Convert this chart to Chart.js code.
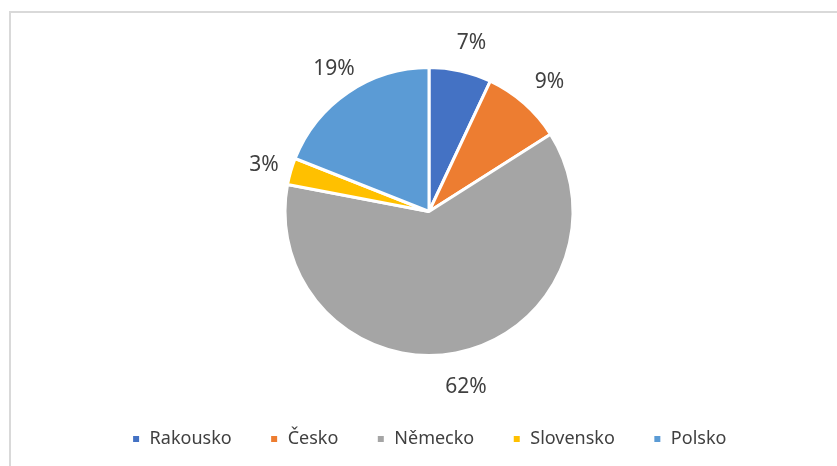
<!DOCTYPE html>
<html>
<head>
<meta charset="utf-8">
<script src="https://cdn.jsdelivr.net/npm/chart.js@4"></script>
<style>
  html, body { margin: 0; padding: 0; background: #fff; }
  #wrap { position: relative; width: 837px; height: 466px; }
  #frame {
    position: absolute; left: 9px; top: 11px; right: -5px; bottom: -5px;
    border-top: 2px solid #d9d9d9; border-left: 2px solid #d9d9d9;
    pointer-events: none;
  }
</style>
</head>
<body>
<div id="wrap">
  <canvas id="chart" width="837" height="466"></canvas>
  <div id="frame"></div>
</div>
<script>
// Country shares (percent)
const countries = ['Rakousko', 'Česko', 'Německo', 'Slovensko', 'Polsko'];
const shares = [7, 9, 62, 3, 19];
const colors = ['#4472C4', '#ED7D31', '#A5A5A5', '#FFC000', '#5B9BD5'];

// draws the "7%" style labels just outside each slice
const outsideLabels = {
    id: 'outsideLabels',
    afterDatasetsDraw(chart) {
        const ctx = chart.ctx;
        const meta = chart.getDatasetMeta(0);
        ctx.save();
        ctx.font = '21px "Noto Sans", "Open Sans", sans-serif';
        ctx.fillStyle = '#404040';
        ctx.textAlign = 'center';
        ctx.textBaseline = 'middle';
        meta.data.forEach(function(arc, i) {
            const mid = (arc.startAngle + arc.endAngle) / 2;
            const r = arc.outerRadius + 32;
            const x = arc.x + Math.cos(mid) * r + 4;
            const y = arc.y + Math.sin(mid) * r + 3;
            ctx.fillText(shares[i] + '%', x, y);
        });
        ctx.restore();
    }
};

new Chart(document.getElementById('chart'), {
    type: 'pie',
    data: {
        labels: countries,
        datasets: [{
            data: shares,
            backgroundColor: colors,
            borderColor: '#ffffff',
            borderWidth: 3,
            radius: 144
        }]
    },
    options: {
        responsive: false,
        animation: false,
        layout: { padding: { top: 31, left: 21, right: 0, bottom: 8 } },
        plugins: {
            tooltip: { enabled: false },
            legend: {
                position: 'bottom',
                labels: {
                    boxWidth: 9,
                    boxHeight: 9,
                    padding: 38,
                    color: '#404040',
                    font: { family: '"Noto Sans", "Open Sans", sans-serif', size: 18 }
                }
            }
        }
    },
    plugins: [outsideLabels]
});
</script>
</body>
</html>
